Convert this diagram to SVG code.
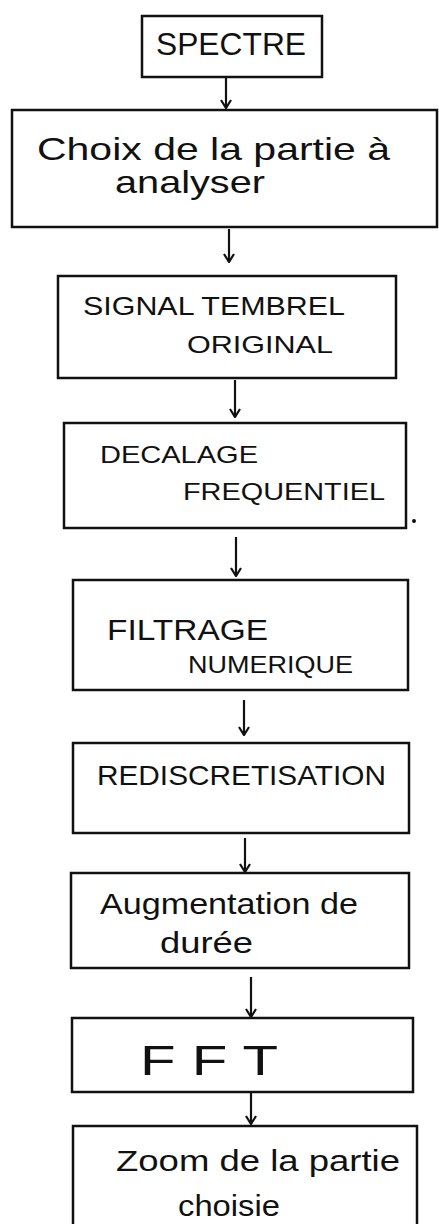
<svg xmlns="http://www.w3.org/2000/svg" width="439" height="1224" viewBox="0 0 439 1224">
<defs>
<style>
.box{fill:none;stroke:#111;stroke-width:2.5}
.lbl{font-family:"Liberation Sans",Arial,sans-serif;fill:#111}
.con{stroke:#111;stroke-width:2.2;fill:none}
</style>
<marker id="ah" viewBox="0 0 12 12" refX="11" refY="6" markerWidth="12" markerHeight="12" markerUnits="userSpaceOnUse" orient="auto">
<path d="M3,1 L11,6 L3,11" fill="none" stroke="#111" stroke-width="2.2"/>
</marker>
</defs>
<rect width="439" height="1224" fill="#fff"/>
<g id="connectors">
<path class="con" d="M226,77 V108" marker-end="url(#ah)"/>
<path class="con" d="M229,229 V262" marker-end="url(#ah)"/>
<path class="con" d="M235,380 V417" marker-end="url(#ah)"/>
<path class="con" d="M236,537 V576" marker-end="url(#ah)"/>
<path class="con" d="M244,700 V735" marker-end="url(#ah)"/>
<path class="con" d="M245,838 V872" marker-end="url(#ah)"/>
<path class="con" d="M251,977 V1017" marker-end="url(#ah)"/>
<path class="con" d="M251,1092 V1124" marker-end="url(#ah)"/>
</g>
<g id="n1">
<rect class="box" x="142" y="16" width="180" height="61"/>
<text class="lbl" x="156" y="55" font-size="32" textLength="150" lengthAdjust="spacingAndGlyphs">SPECTRE</text>
</g>
<g id="n2">
<rect class="box" x="12" y="110" width="425" height="117"/>
<text class="lbl" x="37" y="160" font-size="32" textLength="353" lengthAdjust="spacingAndGlyphs">Choix de la partie à</text>
<text class="lbl" x="115" y="193" font-size="32" textLength="150" lengthAdjust="spacingAndGlyphs">analyser</text>
</g>
<g id="n3">
<rect class="box" x="58" y="276" width="338" height="102"/>
<text class="lbl" x="83" y="315" font-size="25" textLength="262" lengthAdjust="spacingAndGlyphs">SIGNAL TEMBREL</text>
<text class="lbl" x="187" y="353" font-size="24" textLength="146" lengthAdjust="spacingAndGlyphs">ORIGINAL</text>
</g>
<g id="n4">
<rect class="box" x="64" y="423" width="342" height="105"/>
<text class="lbl" x="100" y="463" font-size="24" textLength="158" lengthAdjust="spacingAndGlyphs">DECALAGE</text>
<text class="lbl" x="183" y="500" font-size="24" textLength="202" lengthAdjust="spacingAndGlyphs">FREQUENTIEL</text>
<circle cx="414" cy="521" r="2" fill="#111"/>
</g>
<g id="n5">
<rect class="box" x="73" y="580" width="335" height="110"/>
<text class="lbl" x="107" y="640" font-size="30" textLength="161" lengthAdjust="spacingAndGlyphs">FILTRAGE</text>
<text class="lbl" x="188" y="673" font-size="23" textLength="165" lengthAdjust="spacingAndGlyphs">NUMERIQUE</text>
</g>
<g id="n6">
<rect class="box" x="73" y="743" width="336" height="90"/>
<text class="lbl" x="97" y="785" font-size="28" textLength="289" lengthAdjust="spacingAndGlyphs">REDISCRETISATION</text>
</g>
<g id="n7">
<rect class="box" x="71" y="873" width="338" height="95"/>
<text class="lbl" x="100" y="914" font-size="30" textLength="258" lengthAdjust="spacingAndGlyphs">Augmentation de</text>
<text class="lbl" x="160" y="953" font-size="30" textLength="93" lengthAdjust="spacingAndGlyphs">durée</text>
</g>
<g id="n8">
<rect class="box" x="72" y="1018" width="341" height="74"/>
<text class="lbl" x="140" y="1075" font-size="42" textLength="138" lengthAdjust="spacingAndGlyphs">F F T</text>
</g>
<g id="n9">
<path class="box" d="M73,1230 V1126 H417 V1230"/>
<text class="lbl" x="116" y="1171" font-size="30" textLength="284" lengthAdjust="spacingAndGlyphs">Zoom de la partie</text>
<text class="lbl" x="178" y="1216" font-size="30" textLength="102" lengthAdjust="spacingAndGlyphs">choisie</text>
</g>
</svg>
